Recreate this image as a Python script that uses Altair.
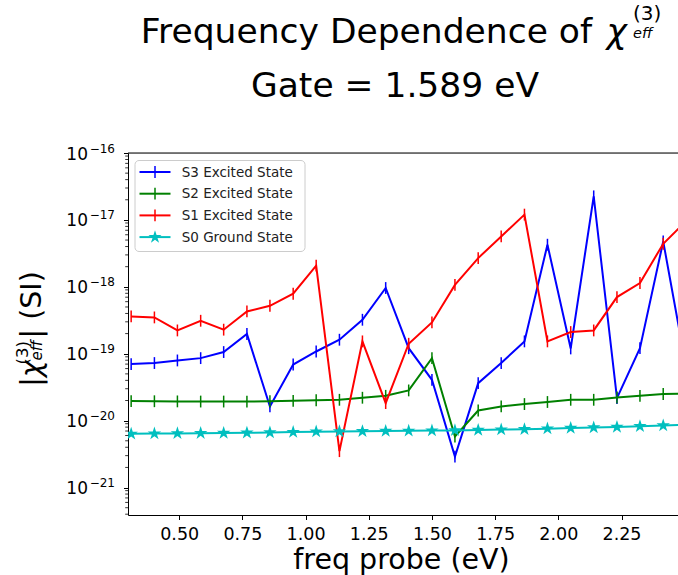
import math
import altair as alt
import pandas as pd

# probe photon energy (eV)
freq = [0.310, 0.402, 0.493, 0.585, 0.676, 0.768, 0.859, 0.951, 1.042, 1.134,
        1.225, 1.317, 1.408, 1.500, 1.591, 1.683, 1.774, 1.866, 1.957, 2.049,
        2.140, 2.232, 2.323, 2.415, 2.506]

# |chi_eff^(3)| in SI units, one list per state
s3 = [7.0e-20, 7.26e-20, 7.94e-20, 8.6e-20, 1.06e-19, 1.97e-19, 1.63e-20, 6.9e-20,
      1.08e-19, 1.62e-19, 3.22e-19, 9.6e-19, 1.21e-19, 4.08e-20, 2.9e-21, 3.63e-20,
      7.26e-20, 1.53e-19, 4.26e-18, 1.2e-19, 2.25e-17, 2.17e-20, 1.21e-19, 4.77e-18,
      6.2e-20]
s2 = [1.96e-20, 1.95e-20, 1.94e-20, 1.93e-20, 1.93e-20, 1.93e-20, 1.95e-20, 1.98e-20,
      2.02e-20, 2.05e-20, 2.2e-20, 2.35e-20, 2.83e-20, 8.6e-20, 5.8e-21, 1.42e-20,
      1.63e-20, 1.77e-20, 1.9e-20, 2.05e-20, 2.05e-20, 2.22e-20, 2.35e-20, 2.5e-20,
      2.55e-20]
s1 = [3.61e-19, 3.49e-19, 2.23e-19, 3.11e-19, 2.29e-19, 4.29e-19, 5.21e-19, 7.88e-19,
      2.07e-18, 3.5e-21, 1.53e-19, 1.83e-20, 1.41e-19, 2.94e-19, 1.07e-18, 2.69e-18,
      5.67e-18, 1.2e-17, 1.53e-19, 2.11e-19, 2.23e-19, 7.03e-19, 1.14e-18, 4.4e-18,
      9.6e-18]
s0 = [6.35e-21, 6.4e-21, 6.45e-21, 6.5e-21, 6.55e-21, 6.6e-21, 6.65e-21, 6.75e-21,
      6.85e-21, 6.9e-21, 6.95e-21, 7.0e-21, 7.05e-21, 7.1e-21, 7.15e-21, 7.25e-21,
      7.35e-21, 7.45e-21, 7.6e-21, 7.75e-21, 7.9e-21, 8.05e-21, 8.25e-21, 8.45e-21,
      8.65e-21]

series_names = ["S3 Excited State", "S2 Excited State", "S1 Excited State", "S0 Ground State"]
series_values = [s3, s2, s1, s0]
series_colors = ["#0000ff", "#008000", "#ff0000", "#00bfbf"]

xtick_values = [0.50, 0.75, 1.00, 1.25, 1.50, 1.75, 2.00, 2.25]
ytick_exponents = [-21, -20, -19, -18, -17, -16]
ytick_exp_labels = ["−21", "−20", "−19", "−18", "−17", "−16"]

FONT = "DejaVu Sans"
W, H = 550, 362
YMIN = 10 ** -21.41

# marker paths (unit coordinates, scaled by the symbol size)
TICK = "M0,-1L0,1"
pts = []
for k in range(10):
    r = 1.0 if k % 2 == 0 else 0.382
    a = math.radians(-90 + 36 * k)
    pts.append(f"{r * math.cos(a):.3f},{r * math.sin(a):.3f}")
STAR = "M" + "L".join(pts) + "Z"

xscale = alt.Scale(domain=[0.2975, 2.4735], nice=False, zero=False)
yscale = alt.Scale(type="log", domain=[YMIN, 1e-16], nice=False)

yvals = [10.0 ** e for e in ytick_exponents]

xaxis = alt.Axis(values=xtick_values, format=".2f", title=None, grid=False,
                 tickSize=4.5, labelPadding=6, labelFontSize=17.5,
                 labelFont=FONT, labelColor="#000000", domainColor="#000000",
                 tickColor="#000000", domainWidth=1, tickWidth=1)
yaxis = alt.Axis(values=yvals, labels=False, title=None, grid=False,
                 tickSize=4.5, domainColor="#000000",
                 tickColor="#000000", domainWidth=1, tickWidth=1)

X = alt.X("freq:Q", scale=xscale, axis=xaxis)
Y = alt.Y("chi:Q", scale=yscale, axis=yaxis)

layers = []

# log-axis minor ticks
minor = [m * 10.0 ** d for d in range(-22, -16) for m in range(2, 10)
         if YMIN <= m * 10.0 ** d <= 1e-16]
layers.append(
    alt.Chart(pd.DataFrame({"chi": minor})).mark_rule(color="#000000", strokeWidth=0.8)
    .encode(y=Y, x=alt.value(-2.8), x2=alt.value(0))
)

# y tick labels: base "10" with a raised exponent
ylab = pd.DataFrame({"chi": yvals, "base": ["10"] * len(yvals), "exp": ytick_exp_labels})
layers.append(
    alt.Chart(ylab).mark_text(font=FONT, fontSize=17, align="right", baseline="alphabetic",
                              dy=6.5, color="#000000")
    .encode(y=Y, x=alt.value(-40), text="base:N")
)
layers.append(
    alt.Chart(ylab).mark_text(font=FONT, fontSize=12, align="right", baseline="alphabetic",
                              dy=-0.5, color="#000000")
    .encode(y=Y, x=alt.value(-13), text="exp:N")
)

# series: line plus markers
for name, vals, col in zip(series_names, series_values, series_colors):
    d = pd.DataFrame({"freq": freq, "chi": vals, "series": name})
    base = alt.Chart(d)
    layers.append(base.mark_line(color=col, strokeWidth=2, clip=True).encode(x=X, y=Y))
    if name.startswith("S0"):
        layers.append(base.mark_point(shape=STAR, size=200, filled=True, color=col,
                                      opacity=1, clip=True).encode(x=X, y=Y))
    else:
        layers.append(base.mark_point(shape=TICK, size=140, filled=False, color=col,
                                      strokeWidth=1.5, opacity=1, clip=True).encode(x=X, y=Y))

# top frame line
one = pd.DataFrame({"k": [0]})
layers.append(
    alt.Chart(one).mark_rule(color="#000000", strokeWidth=1)
    .encode(x=alt.value(0), x2=alt.value(W), y=alt.value(0))
)

# legend box
layers.append(
    alt.Chart(one).mark_rect(fill="#ffffff", fillOpacity=0.8, stroke="#cccccc",
                             strokeWidth=1, cornerRadius=4)
    .encode(x=alt.value(7), x2=alt.value(177), y=alt.value(7.5), y2=alt.value(98.5))
)
for i, (name, col) in enumerate(zip(series_names, series_colors)):
    ly = 19 + 21.7 * i
    layers.append(alt.Chart(one).mark_rule(color=col, strokeWidth=2)
                  .encode(x=alt.value(11.5), x2=alt.value(42.5), y=alt.value(ly)))
    if name.startswith("S0"):
        layers.append(alt.Chart(one).mark_point(shape=STAR, size=190, filled=True,
                                                color=col, opacity=1)
                      .encode(x=alt.value(27), y=alt.value(ly)))
    else:
        layers.append(alt.Chart(one).mark_point(shape=TICK, size=140, filled=False,
                                                color=col, strokeWidth=1.5, opacity=1)
                      .encode(x=alt.value(27), y=alt.value(ly)))
    layers.append(alt.Chart(pd.DataFrame({"t": [name]}))
                  .mark_text(font=FONT, fontSize=13.5, align="left", baseline="middle",
                             color="#222222")
                  .encode(x=alt.value(53.7), y=alt.value(ly + 0.5), text="t:N"))


def label(text, x, y, size, angle=0, align="left", italic=False):
    kw = dict(font=FONT, fontSize=size, align=align, baseline="alphabetic",
              color="#000000")
    if angle:
        kw["angle"] = angle
    if italic:
        kw["fontStyle"] = "italic"
    return (alt.Chart(pd.DataFrame({"t": [text]})).mark_text(**kw)
            .encode(x=alt.value(x), y=alt.value(y), text="t:N"))


# title
layers.append(label("Frequency Dependence of ", 12.7, -109.7, 34.5))
layers.append(label("χ", 478.5, -109.7, 34.5, italic=True))
layers.append(label("(3)", 505, -133, 20))
layers.append(label("eff", 505, -115.5, 14.5, italic=True))
layers.append(label("Gate = 1.589 eV", 267, -55.7, 34.5, align="center"))

# y-axis title
layers.append(label("|", -87, 233.7, 28.5, angle=270))
layers.append(label("χ", -87, 224.2, 28.5, angle=270, italic=True))
layers.append(label("(3)", -100.5, 211.5, 16.5, angle=270))
layers.append(label("eff", -86, 207.5, 15, angle=270, italic=True))
layers.append(label("| (SI)", -87, 185.5, 28.5, angle=270))

# x-axis title
layers.append(label("freq probe (eV)", 273.5, 416, 28.5, align="center"))

chart = (
    alt.layer(*layers)
    .properties(width=W, height=H,
                autosize=alt.AutoSizeParams(type="none"),
                padding={"left": 128, "top": 153, "right": 0, "bottom": 60})
    .configure_view(stroke=None)
    .configure(background="#ffffff", font=FONT)
)

chart.save("out.html", embed_options={"renderer": "svg", "actions": False})
